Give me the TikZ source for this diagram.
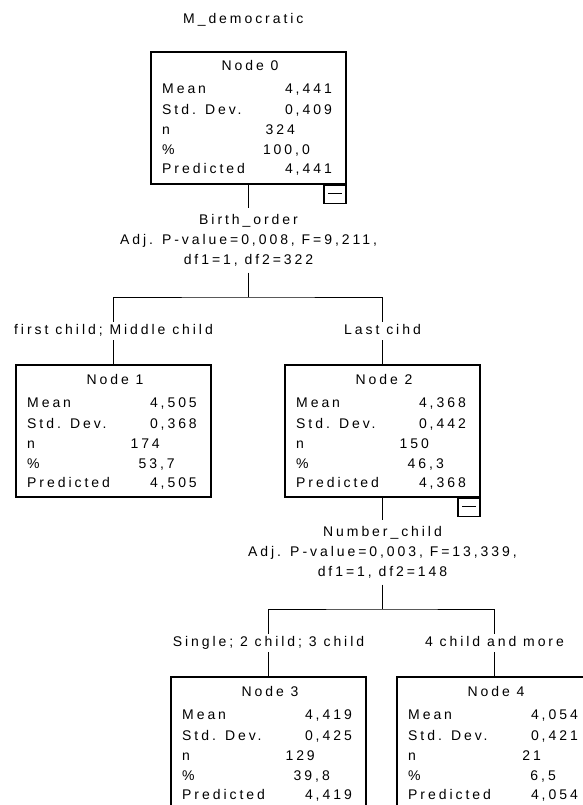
\documentclass[tikz,border=0pt]{standalone}
\usepackage{fontspec}
\setmainfont{Liberation Sans}[LetterSpace=21]
\usetikzlibrary{calc}
\tikzset{
  treebox/.style={draw, line width=1.2pt, minimum width=195pt, minimum height=132pt, inner sep=0pt},
  txt/.style={inner sep=0pt, font=\fontsize{14}{20}\selectfont},
  lab/.style={txt, text height=10pt, text depth=2.5pt, inner ysep=2.75pt, inner xsep=0pt},
  split/.style={txt, align=center, inner ysep=6pt, inner xsep=0pt},
  minusbox/.style={draw, line width=1.2pt, minimum width=22pt, minimum height=18pt, inner sep=0pt,
    path picture={\draw[line width=1pt] ($(path picture bounding box.west)+(4pt,1pt)$) -- ($(path picture bounding box.east)+(-4pt,1pt)$);}},
  conn/.style={line width=1pt},
}
% #1 number, #2 left, #3 top, #4 mean, #5 sd, #6 n, #7 pct, #8 pred
\newcommand\treebox[8]{%
  \node[treebox] (n#1) at (#2+97.5,#3+66) {};
  \node[txt,anchor=base] (n#1title) at (#2+99,#3+19) {Node #1};
  \node[txt,anchor=base west] (n#1a) at (#2+11,#3+42) {Mean};
  \node[txt,anchor=base west] (n#1b) at (#2+11,#3+63) {Std. Dev.};
  \node[txt,anchor=base west] (n#1c) at (#2+11,#3+83) {n};
  \node[txt,anchor=base west] (n#1d) at (#2+11,#3+103) {\%};
  \node[txt,anchor=base west] (n#1e) at (#2+11,#3+122) {Predicted};
  \node[txt,anchor=base east] (n#1av) at (#2+181,#3+42) {#4};
  \node[txt,anchor=base east] (n#1bv) at (#2+181,#3+63) {#5};
  \node[txt,anchor=base east] (n#1cv) at (#2+144,#3+83) {#6};
  \node[txt,anchor=base east] (n#1dv) at (#2+159,#3+103) {#7};
  \node[txt,anchor=base east] (n#1ev) at (#2+181,#3+122) {#8};
}
\begin{document}
\begin{tikzpicture}[x=1pt,y=-1pt]
\clip (0,0) rectangle (583,805);
\fill[white] (0,0) rectangle (583,805);

\node[txt,anchor=west] (title) at (183,20) {M\_democratic};

\treebox{0}{151}{52}{4,441}{0,409}{324}{100,0}{4,441}
\treebox{1}{16}{365}{4,505}{0,368}{174}{53,7}{4,505}
\treebox{2}{285}{365}{4,368}{0,442}{150}{46,3}{4,368}
\treebox{3}{171}{677}{4,419}{0,425}{129}{39,8}{4,419}
\treebox{4}{397}{677}{4,054}{0,421}{21}{6,5}{4,054}

\node[minusbox,anchor=north east] (m0) at (n0.south east) {};
\node[minusbox,anchor=north east] (m2) at (n2.south east) {};

% split 0
\node[split] (s0) at (248.5,240.5) {Birth\_order\\Adj. P-value=0,008, F=9,211,\\df1=1, df2=322};
\coordinate (b0) at (248.5,297);
\node[lab] (l1) at (113.5,331) {first child; Middle child};
\node[lab] (l2) at (382.5,331) {Last cihd};
\draw[conn] (n0.south) -- (s0.north);
\draw[conn] (s0.south) -- (b0);
\draw[conn] (l1.north) |- (b0) -| (l2.north);
\draw[conn] (l1.south) -- (n1.north);
\draw[conn] (l2.south) -- (n2.north);

% split 2
\node[split] (s2) at (382.5,552.5) {Number\_child\\Adj. P-value=0,003, F=13,339,\\df1=1, df2=148};
\coordinate (b2) at (382.5,609);
\node[lab] (l3) at (268.5,643) {Single; 2 child; 3 child};
\node[lab] (l4) at (494.5,643) {4 child and more};
\draw[conn] (n2.south) -- (s2.north);
\draw[conn] (s2.south) -- (b2);
\draw[conn] (l3.north) |- (b2) -| (l4.north);
\draw[conn] (l3.south) -- (n3.north);
\draw[conn] (l4.south) -- (n4.north);
\end{tikzpicture}
\end{document}
